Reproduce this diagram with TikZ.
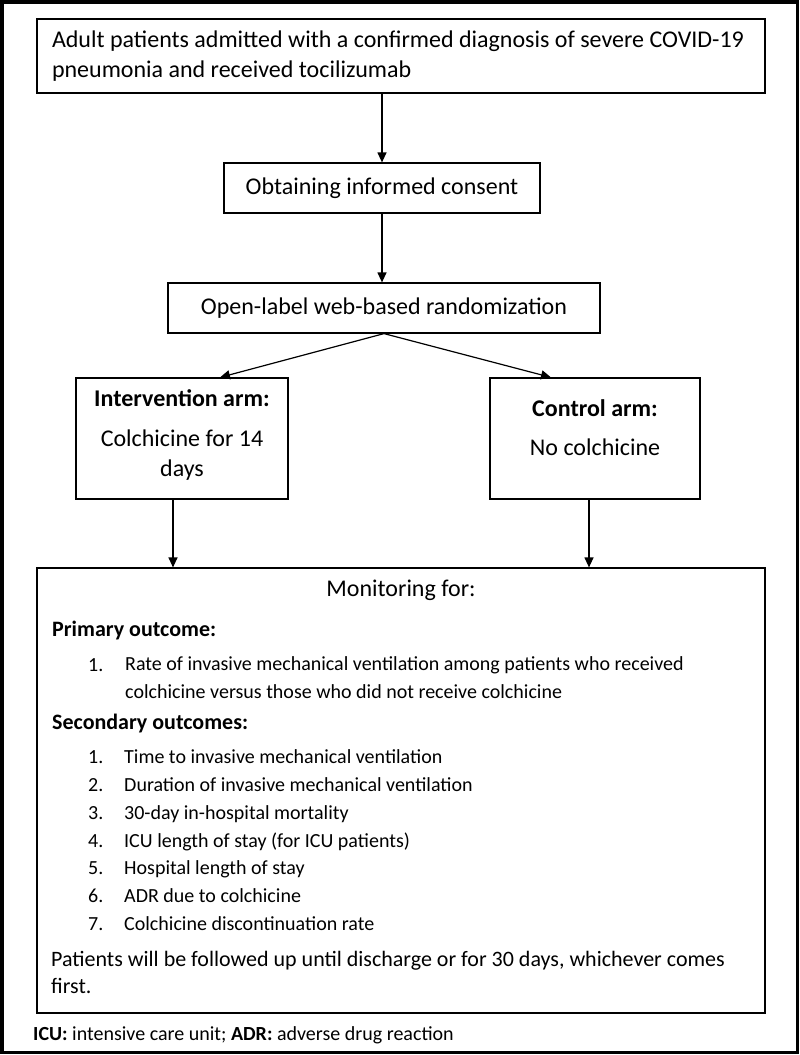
\documentclass[tikz,border=0pt]{standalone}
\usepackage{fontspec}
\setmainfont{Carlito}
\usetikzlibrary{arrows.meta}

\begin{document}
\begin{tikzpicture}[auto, >={Triangle[length=10pt,width=9pt]}, x=1pt, y=1pt]
	\tikzstyle{block} = [draw, rectangle, line width=1.2pt, inner sep=0pt]
	\tikzstyle{big} = [font=\fontsize{24}{30}\selectfont, inner sep=0pt]
	\tikzstyle{head} = [font=\fontsize{22}{28}\selectfont\bfseries, inner sep=0pt, anchor=base west]
	\tikzstyle{item} = [font=\fontsize{20}{28}\selectfont, inner sep=0pt, anchor=base west, align=left]
	\tikzstyle{arr} = [->, line width=1.2pt]

	\useasboundingbox (0,0) rectangle (800,-1055);
	\draw [line width=3.5pt] (2,-2) rectangle (797.5,-1052.5);

	\node [block, big, minimum width=728pt, minimum height=74pt, text width=698pt, align=flush left] (adult) at (401,-56) {\mbox{Adult patients admitted with a confirmed diagnosis of severe COVID-19}\\ pneumonia and received tocilizumab};
	\node [block, big, below of=adult, node distance=132pt, xshift=-19pt, minimum width=316pt, minimum height=50pt] (consent) {Obtaining informed consent};
	\node [block, big, below of=consent, node distance=120pt, xshift=2pt, minimum width=432pt, minimum height=50pt] (rand) {Open-label web-based randomization};
	\node [block, minimum width=212pt, minimum height=121pt] (interv) at (182,-438.5) {};
	\node [block, right of=interv, node distance=413pt, minimum width=210pt, minimum height=121pt] (ctrl) {};
	\node [block, minimum width=728pt, minimum height=445pt] (mon) at (401,-790.5) {};

	% arm boxes
	\node [big, anchor=base] (interv-head) at ([yshift=-29pt]interv.north) {\textbf{Intervention arm:}};
	\node [big, anchor=base, align=center] (interv-drug) at ([yshift=-99.5pt]interv.north) {Colchicine for 14\\ days};
	\node [big, anchor=base] (ctrl-head) at ([yshift=-39pt]ctrl.north) {\textbf{Control arm:}};
	\node [big, anchor=base] (ctrl-drug) at ([yshift=-78pt]ctrl.north) {No colchicine};

	% monitoring box
	\node [big, anchor=base] (mon-head) at ([yshift=-29pt]mon.north) {Monitoring for:};
	\node [head] (primary) at (52,-636) {Primary outcome:};
	\node [item] (p-num) at (88,-671) {1.};
	\node [item] (p-text) at (125,-698.6) {Rate of invasive mechanical ventilation among patients who received\\ colchicine versus those who did not receive colchicine};
	\node [head] (secondary) at (52,-729) {Secondary outcomes:};
	\foreach \t [count=\i] in {Time to invasive mechanical ventilation, Duration of invasive mechanical ventilation, 30-day in-hospital mortality, ICU length of stay (for ICU patients), Hospital length of stay, ADR due to colchicine, Colchicine discontinuation rate}
	  {
	    \node [item] (s-num-\i) at (88, {-735.8-27.8*\i}) {\i.};
	    \node [item] (s-text-\i) at (124, {-735.8-27.8*\i}) {\t};
	  }
	\node [item, font=\fontsize{22}{27}\selectfont] (follow) at (51,-993) {Patients will be followed up until discharge or for 30 days, whichever comes\\ first.};
	\node [item] (abbrev) at (33,-1040) {\textbf{ICU:} intensive care unit; \textbf{ADR:} adverse drug reaction};

	\draw [arr] (consent.north |- adult.south) -- (consent.north);
	\draw [arr] (consent) -- (consent |- rand.north);
	\draw [arr] (rand.south) -- ([xshift=38pt]interv.north);
	\draw [arr] (rand.south) -- ([xshift=-44pt]ctrl.north);
	\draw [arr] ([xshift=-9pt]interv.south) -- ([xshift=-9pt]interv.south |- mon.north);
	\draw [arr] ([xshift=-6pt]ctrl.south) -- ([xshift=-6pt]ctrl.south |- mon.north);
\end{tikzpicture}
\end{document}
